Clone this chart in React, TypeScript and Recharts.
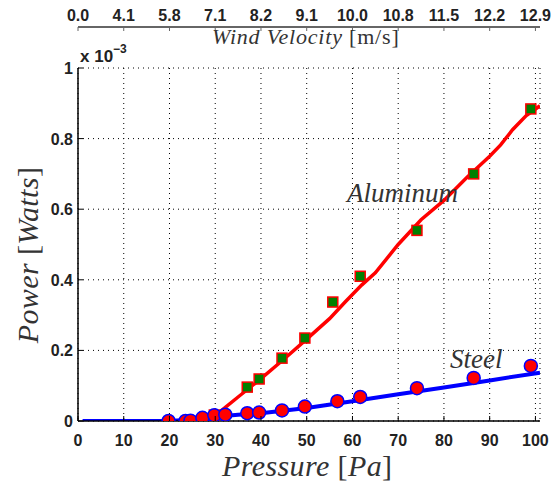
import React from 'react';
import { ComposedChart, Line, Scatter, XAxis, YAxis, CartesianGrid } from 'recharts';

// pressure ticks (bottom) and matching wind velocity labels (top)
const pressureTicks = [0, 10, 20, 30, 40, 50, 60, 70, 80, 90, 100];
const windLabels = ['0.0', '4.1', '5.8', '7.1', '8.2', '9.1', '10.0', '10.8', '11.5', '12.2', '12.9'];
const powerTicks = [0, 0.2, 0.4, 0.6, 0.8, 1];

// measured points
const alPressure = [27, 29.8, 37, 39.6, 44.6, 49.6, 55.7, 61.7, 74.1, 86.5, 99];
const alPower = [0.0, 0.017, 0.096, 0.119, 0.178, 0.235, 0.337, 0.41, 0.54, 0.7, 0.884];
const stPressure = [19.8, 23.5, 24.6, 27.2, 29.8, 32.2, 37, 39.6, 44.6, 49.6, 56.7, 61.7, 74.1, 86.5, 99];
const stPower = [0, 0, 0.001, 0.009, 0.016, 0.018, 0.022, 0.024, 0.03, 0.041, 0.056, 0.068, 0.093, 0.122, 0.156];

// model curves
const alFitPressure = [29.5, 31, 35, 40, 45, 50, 55, 58.4, 62, 65, 70, 75, 80, 85, 90, 92.4, 95, 98, 101];
const alFitPower = [0.008, 0.026, 0.068, 0.12, 0.175, 0.232, 0.29, 0.337, 0.385, 0.42, 0.5, 0.57, 0.625, 0.69, 0.75, 0.782, 0.825, 0.865, 0.893];
const stFitPressure = [1, 20, 25, 30, 35, 40, 50, 60, 70, 80, 90, 101];
const stFitPower = [0, 0, 0.004, 0.012, 0.018, 0.022, 0.037, 0.056, 0.076, 0.095, 0.115, 0.137];

const zip = (xs: number[], ys: number[]) => xs.map((x, i) => ({ x, y: ys[i] }));

const alPoints = zip(alPressure, alPower);
const stPoints = zip(stPressure, stPower);
const alFit = zip(alFitPressure, alFitPower);
const stFit = zip(stFitPressure, stFitPower);

const W = 553;
const H = 483;
const LEFT = 78;
const RIGHT = 13;
const TOP = 68;
const BOTTOM = 62;

const tickFont = { fontFamily: '"Liberation Sans", Arial, sans-serif', fontWeight: 700, fontSize: 16 };
const serif = '"Liberation Serif", "DejaVu Serif", serif';

const BottomTick = ({ x, y, payload }: any) => (
  <g>
    <line x1={x} y1={y} x2={x} y2={y - 5} stroke="#000" strokeWidth={1} />
    <text x={x} y={y + 25} textAnchor="middle" fill="#222" {...tickFont}>
      {payload.value}
    </text>
  </g>
);

const LeftTick = ({ x, y, payload }: any) => (
  <g>
    <line x1={x} y1={y} x2={x + 5} y2={y} stroke="#000" strokeWidth={1} />
    <text x={x - 5} y={y + 6} textAnchor="end" fill="#222" {...tickFont}>
      {payload.value}
    </text>
  </g>
);

const TopBoxTick = ({ x, y }: any) => (
  <line x1={x} y1={y} x2={x} y2={y + 5} stroke="#000" strokeWidth={1} />
);

const RightBoxTick = ({ x, y }: any) => (
  <line x1={x} y1={y} x2={x - 5} y2={y} stroke="#000" strokeWidth={1} />
);

const WindTick = ({ x, y, payload, index }: any) => (
  <g>
    <line x1={x} y1={y} x2={x} y2={y + 4} stroke="#666" strokeWidth={1} />
    <text x={x} y={y - 6} textAnchor="middle" fill="#222" {...tickFont}>
      {windLabels[index] ?? payload.value}
    </text>
  </g>
);

const Square = ({ cx, cy }: any) => (
  <rect x={cx - 5} y={cy - 5} width={10} height={10} fill="#008000" stroke="#ff0000" strokeWidth={1.5} />
);

const Dot = ({ cx, cy }: any) => (
  <circle cx={cx} cy={cy} r={6.5} fill="#ff0000" stroke="#0000ff" strokeWidth={1.5} />
);

const abs = (style: React.CSSProperties): React.CSSProperties => ({
  position: 'absolute',
  whiteSpace: 'nowrap',
  lineHeight: 1,
  ...style,
});

export default function App() {
  return (
    <div style={{ position: 'fixed', left: 0, top: 0, width: W, height: H, background: '#fff' }}>
      {/* top wind velocity axis */}
      <div style={{ position: 'absolute', left: 0, top: 0 }}>
        <ComposedChart width={W} height={60} data={[{ x: 0 }, { x: 101 }]} margin={{ top: 0, left: LEFT, right: RIGHT, bottom: 0 }}>
          <XAxis
            dataKey="x"
            type="number"
            orientation="top"
            domain={[0, 101]}
            ticks={pressureTicks}
            height={27}
            tickSize={0}
            tickMargin={0}
            tickLine={false}
            axisLine={{ stroke: '#666', strokeWidth: 2 }}
            tick={<WindTick />}
            interval={0}
          />
          <YAxis hide domain={[0, 1]} />
        </ComposedChart>
      </div>

      <div style={{ position: 'absolute', left: 0, top: 0 }}>
        <ComposedChart width={W} height={H} margin={{ top: TOP, left: 18, right: RIGHT, bottom: BOTTOM - 30 }}>
          <CartesianGrid stroke="#000" strokeDasharray="1 4" strokeWidth={1} />
          <XAxis
            dataKey="x"
            type="number"
            domain={[0, 101]}
            ticks={pressureTicks}
            height={30}
            tickSize={0}
            tickMargin={0}
            tickLine={false}
            axisLine={{ stroke: '#000', strokeWidth: 1.5 }}
            tick={<BottomTick />}
            interval={0}
            allowDataOverflow
          />
          <XAxis
            xAxisId="box"
            type="number"
            orientation="top"
            domain={[0, 101]}
            ticks={pressureTicks}
            height={0}
            tickSize={0}
            tickMargin={0}
            tickLine={false}
            axisLine={{ stroke: '#000', strokeWidth: 1.5 }}
            tick={<TopBoxTick />}
            interval={0}
          />
          <YAxis
            type="number"
            domain={[0, 1]}
            ticks={powerTicks}
            width={60}
            tickSize={0}
            tickMargin={0}
            tickLine={false}
            axisLine={{ stroke: '#000', strokeWidth: 1.5 }}
            tick={<LeftTick />}
            interval={0}
            allowDataOverflow
          />
          <YAxis
            yAxisId="box"
            orientation="right"
            type="number"
            domain={[0, 1]}
            ticks={powerTicks}
            width={0}
            tickSize={0}
            tickMargin={0}
            tickLine={false}
            axisLine={{ stroke: '#000', strokeWidth: 1.5 }}
            tick={<RightBoxTick />}
            interval={0}
          />
          <Line data={alFit} dataKey="y" type="linear" stroke="#ff0000" strokeWidth={3.5} dot={false} isAnimationActive={false} />
          <Scatter data={alPoints} dataKey="y" shape={<Square />} isAnimationActive={false} />
          <Line data={stFit} dataKey="y" type="linear" stroke="#0000ff" strokeWidth={4} dot={false} isAnimationActive={false} />
          <Scatter data={stPoints} dataKey="y" shape={<Dot />} isAnimationActive={false} />
        </ComposedChart>
      </div>

      {/* texts */}
      <div style={abs({ left: 212, top: 26, fontFamily: serif, fontSize: 22, letterSpacing: 0.8, color: '#333' })}>
        <i>Wind Velocity</i> [m/s]
      </div>
      <div style={abs({ left: 80, top: 48, ...tickFont, fontSize: 17, color: '#222' })}>
        x 10<span style={{ fontSize: 12, position: 'relative', top: -9 }}>−3</span>
      </div>
      <div style={abs({ left: 222, top: 451, fontFamily: serif, fontSize: 30, letterSpacing: 0.4, color: '#333' })}>
        <i>Pressure</i> [<i>Pa</i>]
      </div>
      <div
        style={abs({
          left: 28,
          top: 255,
          fontFamily: serif,
          fontSize: 30,
          letterSpacing: 0.4,
          color: '#333',
          transform: 'translate(-50%, -50%) rotate(-90deg)',
        })}
      >
        <i>Power</i> [<i>Watts</i>]
      </div>
      <div style={abs({ left: 347, top: 180, fontFamily: serif, fontSize: 27, color: '#333' })}>
        <i>Aluminum</i>
      </div>
      <div style={abs({ left: 450, top: 346, fontFamily: serif, fontSize: 27, color: '#333' })}>
        <i>Steel</i>
      </div>
    </div>
  );
}
